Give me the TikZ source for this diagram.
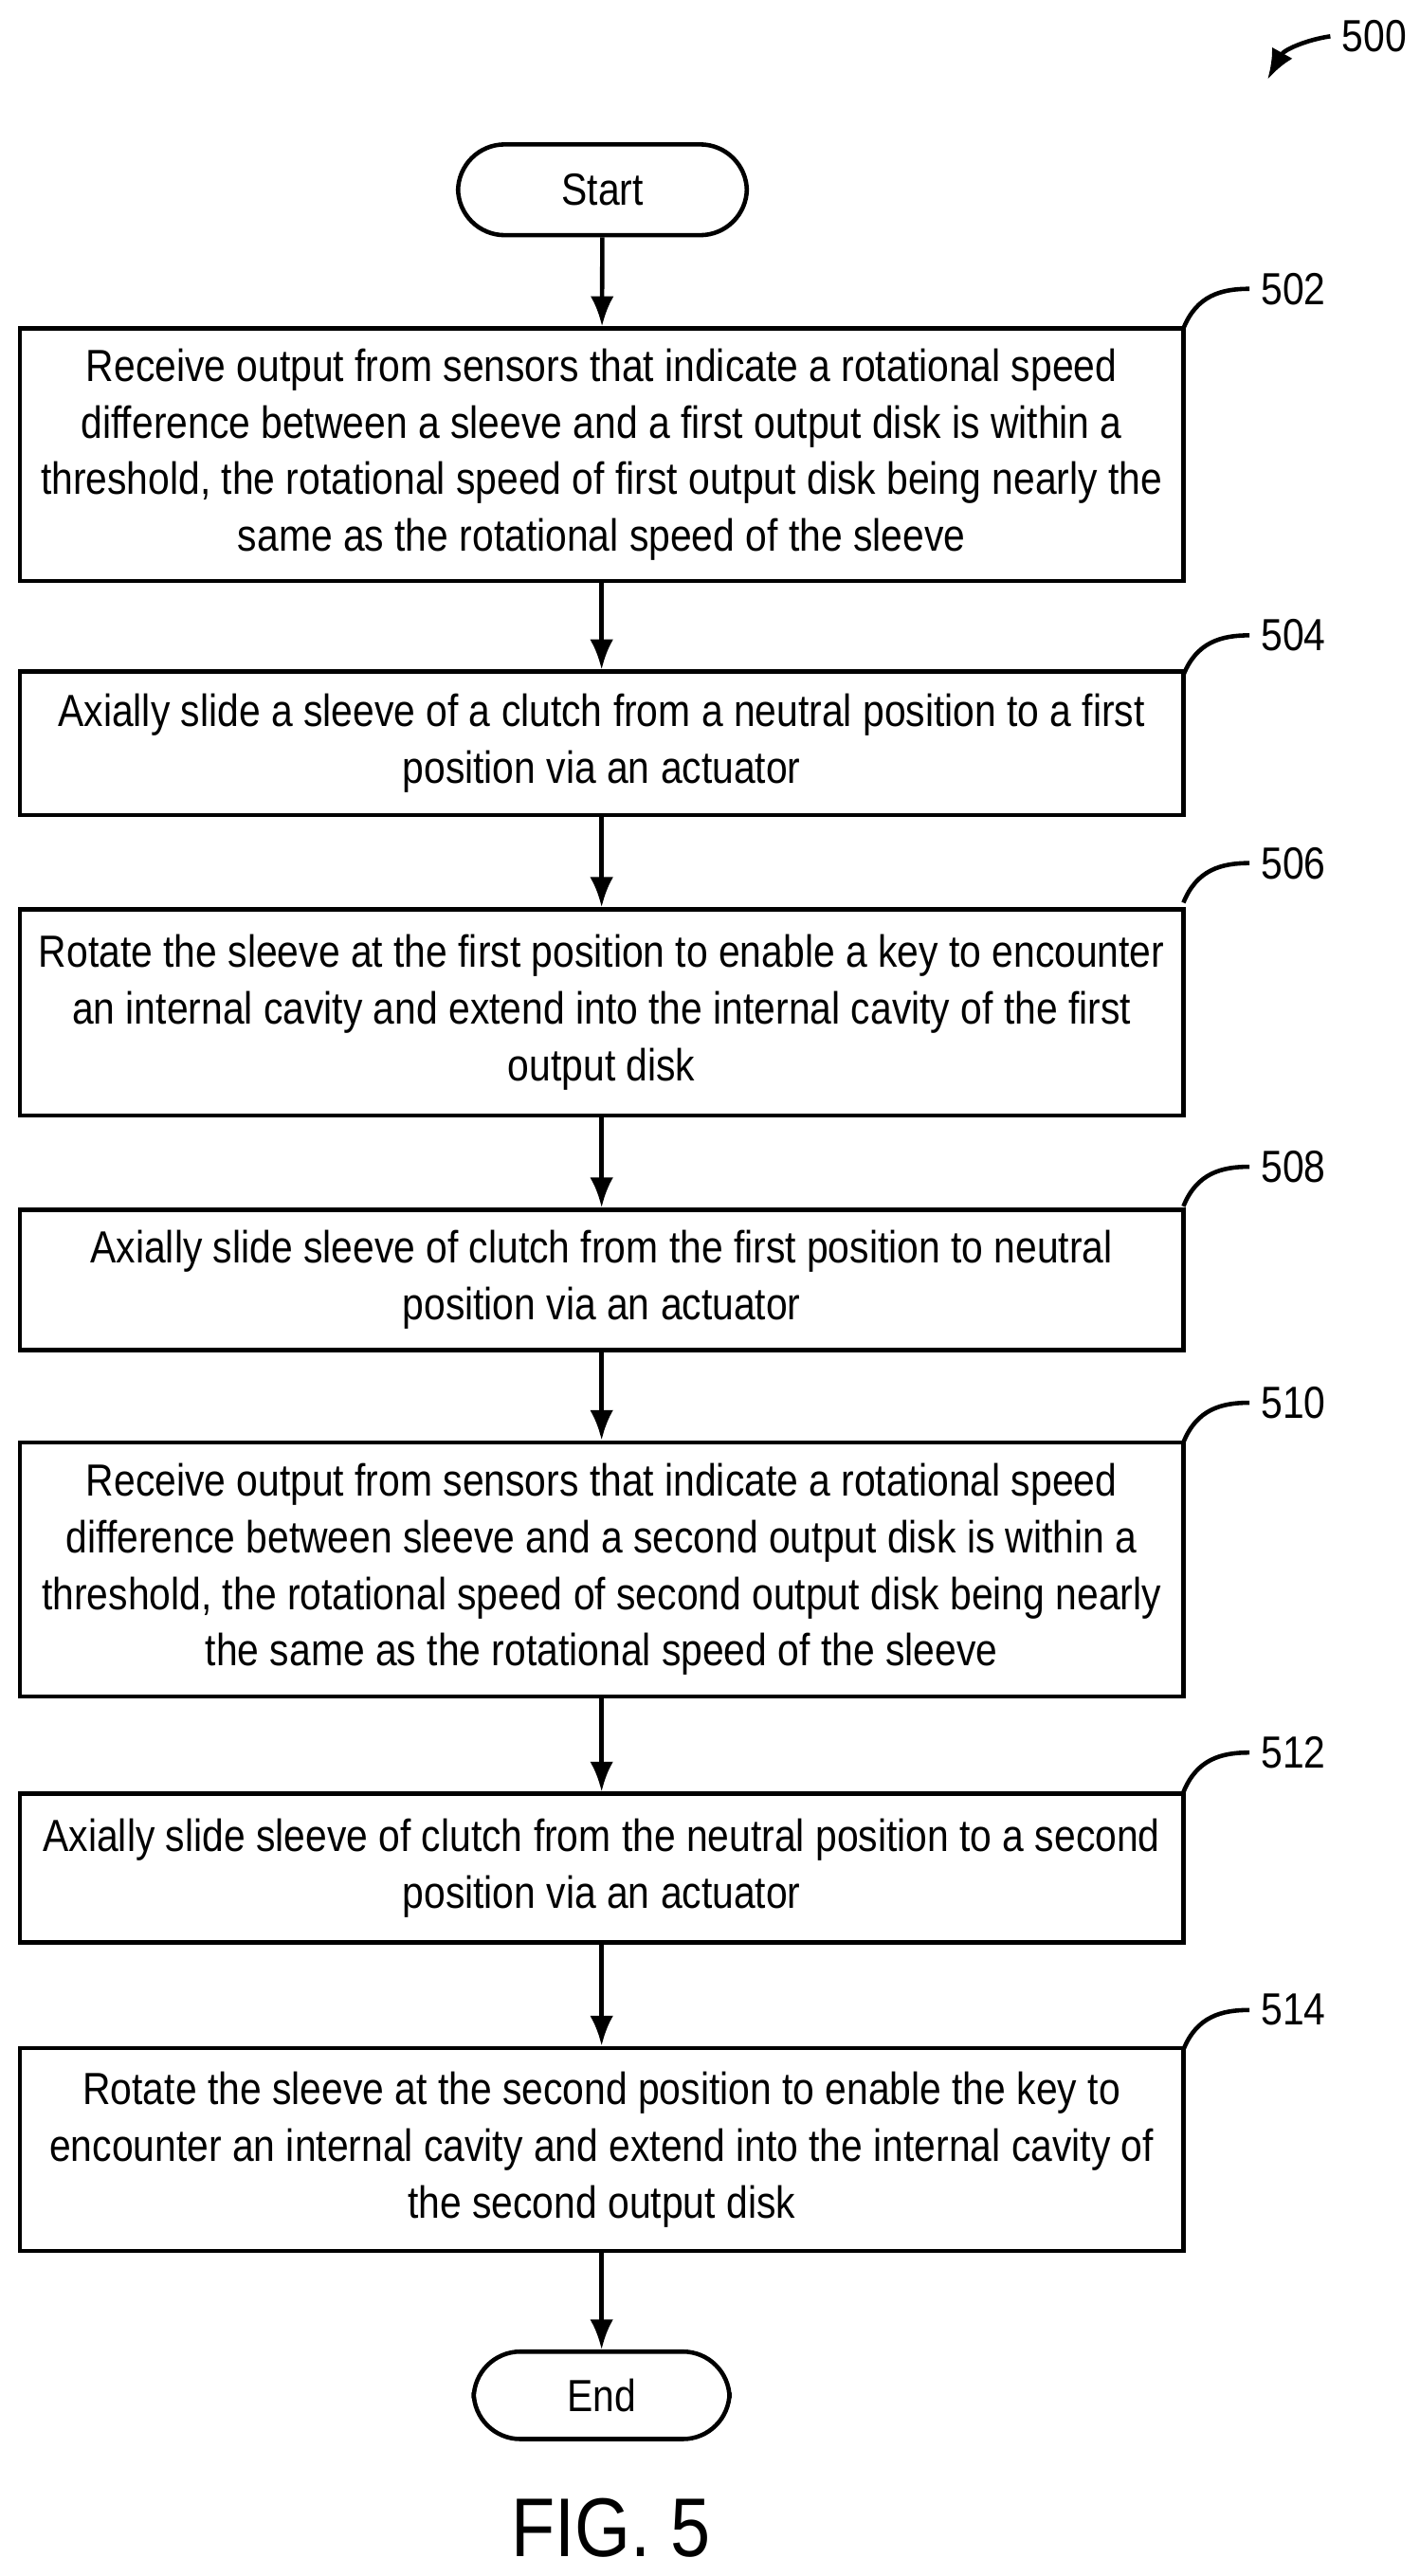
\documentclass[tikz,border=0pt]{standalone}
\usepackage{fontspec}
\setmainfont[FakeStretch=0.86]{Liberation Sans}
\usetikzlibrary{arrows.meta}
\begin{document}
\begin{tikzpicture}[x=0.0174cm,y=-0.0174cm,
 box/.style={draw,line width=1.3pt,minimum width=705*0.0174cm,align=center,font=\fontsize{13.5}{17}\selectfont,inner sep=0pt},
 term/.style={draw,line width=1.3pt,rounded corners=14pt,font=\fontsize{13.5}{17}\selectfont,inner sep=0pt},
 arr/.style={line width=1.3pt,-{Latex[length=9pt,width=7pt]}},
 lab/.style={font=\fontsize{13.5}{17}\selectfont},
 lead/.style={line width=1.3pt}]
\useasboundingbox (0,0) rectangle (860,1561);
\node[term,minimum width=175*0.0174cm,minimum height=55*0.0174cm] (start) at (365,115) {Start};
\node[box,minimum height=153*0.0174cm] (b502) at (364.5,275.5) {Receive output from sensors that indicate a rotational speed\\difference between a sleeve and a first output disk is within a\\threshold, the rotational speed of first output disk being nearly the\\same as the rotational speed of the sleeve};
\node[box,minimum height=87*0.0174cm] (b504) at (364.5,450.5) {Axially slide a sleeve of a clutch from a neutral position to a first\\position via an actuator};
\node[box,minimum height=125*0.0174cm] (b506) at (364.5,613.5) {Rotate the sleeve at the first position to enable a key to encounter\\an internal cavity and extend into the internal cavity of the first\\output disk};
\node[box,minimum height=85*0.0174cm] (b508) at (364.5,775.5) {Axially slide sleeve of clutch from the first position to neutral\\position via an actuator};
\node[box,minimum height=154*0.0174cm] (b510) at (364.5,951) {Receive output from sensors that indicate a rotational speed\\difference between sleeve and a second output disk is within a\\threshold, the rotational speed of second output disk being nearly\\the same as the rotational speed of the sleeve};
\node[box,minimum height=90*0.0174cm] (b512) at (364.5,1132) {Axially slide sleeve of clutch from the neutral position to a second\\position via an actuator};
\node[box,minimum height=123*0.0174cm] (b514) at (364.5,1302.5) {Rotate the sleeve at the second position to enable the key to\\encounter an internal cavity and extend into the internal cavity of\\the second output disk};
\node[term,minimum width=155*0.0174cm,minimum height=53*0.0174cm] (end) at (364.5,1451.5) {End};
\draw[arr] (start) -- (b502);
\draw[arr] (b502) -- (b504);
\draw[arr] (b504) -- (b506);
\draw[arr] (b506) -- (b508);
\draw[arr] (b508) -- (b510);
\draw[arr] (b510) -- (b512);
\draw[arr] (b512) -- (b514);
\draw[arr] (b514) -- (end);
\foreach \n/\y in {502/175,504/385,506/523,508/707,510/850,512/1062,514/1218}{
 \node[lab,anchor=west] (l\n) at (757,\y) {\n};
 \draw[lead] (717,\y+24) .. controls (725,\y+4) and (740,\y) .. (l\n.west);
}
\node[lab,anchor=west] (l500) at (806,22) {500};
\coordinate (a500) at (768,48);
\draw[lead,-{Latex[length=9pt,width=7pt]}] (l500.west) .. controls (792,24) and (778,30) .. (a500);
\node[font=\fontsize{25}{30}\selectfont] (fig) at (370,1532) {FIG. 5};
\end{tikzpicture}
\end{document}
